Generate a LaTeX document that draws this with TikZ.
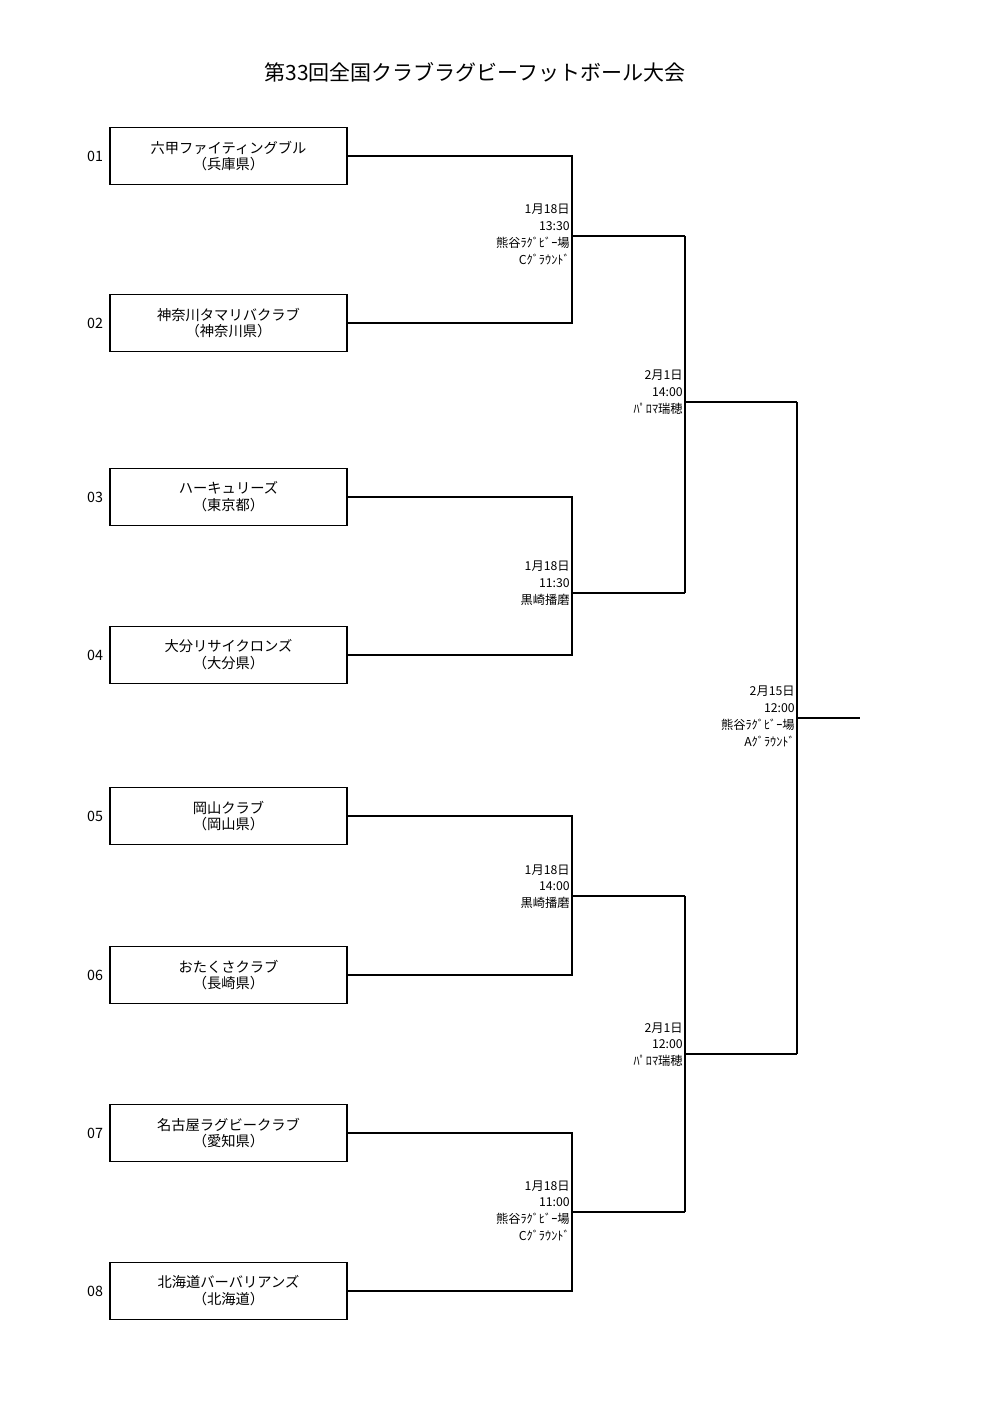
\documentclass[tikz,border=0pt]{standalone}
\usepackage{fontspec}
\setmainfont{Noto Sans CJK JP}
\usetikzlibrary{calc}
\begin{document}
\begin{tikzpicture}[x=0.595pt,y=-0.595pt,
  team/.style={draw,line width=1.1pt,minimum width=237*0.595pt,minimum height=57*0.595pt,align=center,font=\fontsize{8.5}{10}\selectfont,inner sep=0pt},
  num/.style={font=\fontsize{8.5}{9}\selectfont},
  info/.style={anchor=north east,align=right,font=\fontsize{7.3}{10.1}\selectfont,inner sep=0pt},
  br/.style={line width=1.1pt}]
\useasboundingbox (0,0) rectangle (1000,1415);
\node[font=\fontsize{12.5}{14}\selectfont] (title) at (475,72) {第33回全国クラブラグビーフットボール大会};
\foreach \i/\y/\t in {1/156/{六甲ファイティングブル\\（兵庫県）},2/323/{神奈川タマリバクラブ\\（神奈川県）},3/497/{ハーキュリーズ\\（東京都）},4/655/{大分リサイクロンズ\\（大分県）},5/816/{岡山クラブ\\（岡山県）},6/975/{おたくさクラブ\\（長崎県）},7/1133/{名古屋ラグビークラブ\\（愛知県）},8/1291/{北海道バーバリアンズ\\（北海道）}}{
  \node[team] (t\i) at (228.5,\y) {\t};
  \node[num] (n\i) at (95,\y) {0\i};
}
\foreach \a/\b/\m/\k in {1/2/236/A,3/4/593/B,5/6/896/C,7/8/1212/D}{
  \coordinate (j\k) at (572,\m);
  \coordinate (e\k) at (685,\m);
  \draw[br] (t\a.east) -| (j\k) |- (t\b.east);
  \draw[br] (j\k) -- (e\k);
}
\coordinate (jE) at (685,402); \coordinate (eE) at (797,402);
\coordinate (jF) at (685,1054); \coordinate (eF) at (797,1054);
\draw[br] (eA) -- (jE) -- (eB); \draw[br] (jE) -- (eE);
\draw[br] (eC) -- (jF) -- (eD); \draw[br] (jF) -- (eF);
\coordinate (jG) at (797,718); \coordinate (eG) at (860,718);
\draw[br] (eE) -- (eF); \draw[br] (jG) -- (eG);
\node[info] (lA) at ($(jA)+(-2,-32)$) {1月18日\\13:30\\熊谷ﾗｸﾞﾋﾞｰ場\\Cｸﾞﾗｳﾝﾄﾞ};
\node[info] (lB) at ($(jB)+(-2,-32)$) {1月18日\\11:30\\黒崎播磨};
\node[info] (lC) at ($(jC)+(-2,-32)$) {1月18日\\14:00\\黒崎播磨};
\node[info] (lD) at ($(jD)+(-2,-32)$) {1月18日\\11:00\\熊谷ﾗｸﾞﾋﾞｰ場\\Cｸﾞﾗｳﾝﾄﾞ};
\node[info] (lE) at ($(jE)+(-2,-32)$) {2月1日\\14:00\\ﾊﾟﾛﾏ瑞穂};
\node[info] (lF) at ($(jF)+(-2,-32)$) {2月1日\\12:00\\ﾊﾟﾛﾏ瑞穂};
\node[info] (lG) at ($(jG)+(-2,-32)$) {2月15日\\12:00\\熊谷ﾗｸﾞﾋﾞｰ場\\Aｸﾞﾗｳﾝﾄﾞ};
\end{tikzpicture}
\end{document}
